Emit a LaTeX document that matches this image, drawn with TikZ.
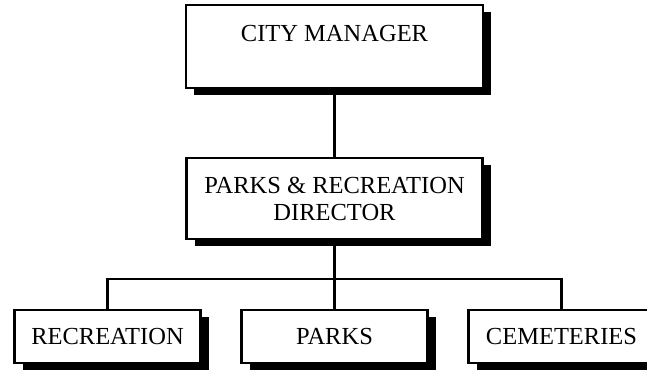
\documentclass[tikz,border=0pt]{standalone}
\usepackage{fontspec}
\setmainfont{Liberation Serif}
\usetikzlibrary{trees}
\usetikzlibrary{shadows}

\begin{document}
\begin{tikzpicture}[x=1pt,y=1pt,line width=2.2pt]
				\useasboundingbox (0,0) rectangle (647,-369);
				\tikzstyle{orgbox}=[rectangle,draw,line width=2.4pt,fill=white,align=center,inner sep=0pt,
					font=\fontsize{24.5}{27}\selectfont,
					drop shadow={shadow xshift=8pt,shadow yshift=-7pt,opacity=1,fill=black}]
				\tikzstyle{every node}=[orgbox]
				\tikzstyle{edge from parent}=[draw,line width=2.2pt]
				\tikzstyle{level 1}=[level distance=152pt]
				\tikzstyle{level 2}=[level distance=138pt,sibling distance=227pt,
					edge from parent path={(\tikzparentnode.south) -- ++(0,-39) -| (\tikzchildnode.north)}]
				\node (manager) at (334.5,-46.5) [minimum width=297pt,minimum height=83pt] {CITY MANAGER\\[-8pt] \strut}
				child{node (director) [minimum width=296pt,minimum height=81pt] {PARKS \& RECREATION\\DIRECTOR}
					child{node (recreation) [minimum width=186pt,minimum height=53pt] {RECREATION}}
					child{node (parks) [minimum width=186pt,minimum height=53pt] {PARKS}}
					child{node (cemeteries) [minimum width=186pt,minimum height=53pt] {CEMETERIES}}
				};
\end{tikzpicture}
\end{document}
